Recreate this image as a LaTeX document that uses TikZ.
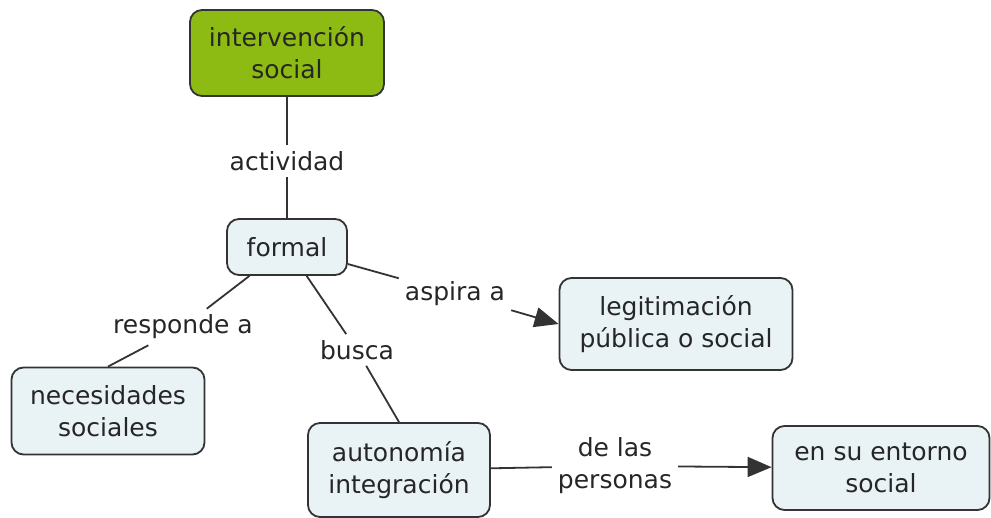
\documentclass[tikz,border=0pt]{standalone}
\usepackage{fontspec}
\setmainfont{DejaVu Sans}
\usetikzlibrary{
  arrows.meta
}
\definecolor{rootgreen}{RGB}{141,187,20}
\definecolor{conceptfill}{RGB}{233,242,245}
\definecolor{framegray}{RGB}{51,51,51}
\definecolor{textgray}{RGB}{38,38,38}
\tikzset{
  % For concept boxes.
  concept/.style={
    draw=framegray,
    line width=1.8pt,
    rounded corners=12pt,
    fill=conceptfill,
    text=textgray,
    align=center,
    inner sep=0pt,
    font=\fontsize{25}{32}\selectfont},
%
  % For the top concept.
  root concept/.style={
    concept,
    fill=rootgreen},
%
  % For linking phrases.
  phrase/.style={
    text=textgray,
    align=center,
    inner sep=6pt,
    font=\fontsize{25}{32}\selectfont},
%
  % For plain connectors.
  link/.style={
    draw=framegray,
    line width=1.8pt},
%
  % For connectors with a head.
  arrow link/.style={
    link,
    -{Triangle[length=24pt,width=20pt]}},
}

\begin{document}
\begin{tikzpicture}[x=1pt,y=-1pt]
  \useasboundingbox (0,0) rectangle (991,518);

  \node[root concept, minimum width=194pt, minimum height=86pt]
    (intervencion) at (287,53) {intervención\\social};
  \node[concept, minimum width=120pt, minimum height=56pt]
    (formal) at (287,247) {formal};
  \node[concept, minimum width=233pt, minimum height=92pt]
    (legitimacion) at (676,324) {legitimación\\pública o social};
  \node[concept, minimum width=193pt, minimum height=87pt]
    (necesidades) at (108,411) {necesidades\\sociales};
  \node[concept, minimum width=182pt, minimum height=94pt]
    (autonomia) at (399,470) {autonomía\\integración};
  \node[concept, minimum width=217pt, minimum height=84pt]
    (entorno) at (881,468) {en su entorno\\social};

  \node[phrase] (actividad) at (287,161) {actividad};
  \node[phrase] (responde) at (183,327) {responde a};
  \node[phrase] (busca) at (357,350) {busca};
  \node[phrase] (aspira) at (455,294) {aspira a};
  \node[phrase] (personas) at (615,466) {de las\\personas};

  \draw[link] (intervencion) -- (actividad);
  \draw[link] (actividad) -- (formal);
  \draw[link] (formal) -- (responde);
  \draw[link] (responde) -- (necesidades.north);
  \draw[link] (formal) -- (busca);
  \draw[link] (busca) -- (autonomia.north);
  \draw[link] (formal) -- (aspira);
  \draw[arrow link] (aspira) -- (legitimacion.west);
  \draw[link] (autonomia) -- (personas);
  \draw[arrow link] (personas) -- (entorno);
\end{tikzpicture}
\end{document}
